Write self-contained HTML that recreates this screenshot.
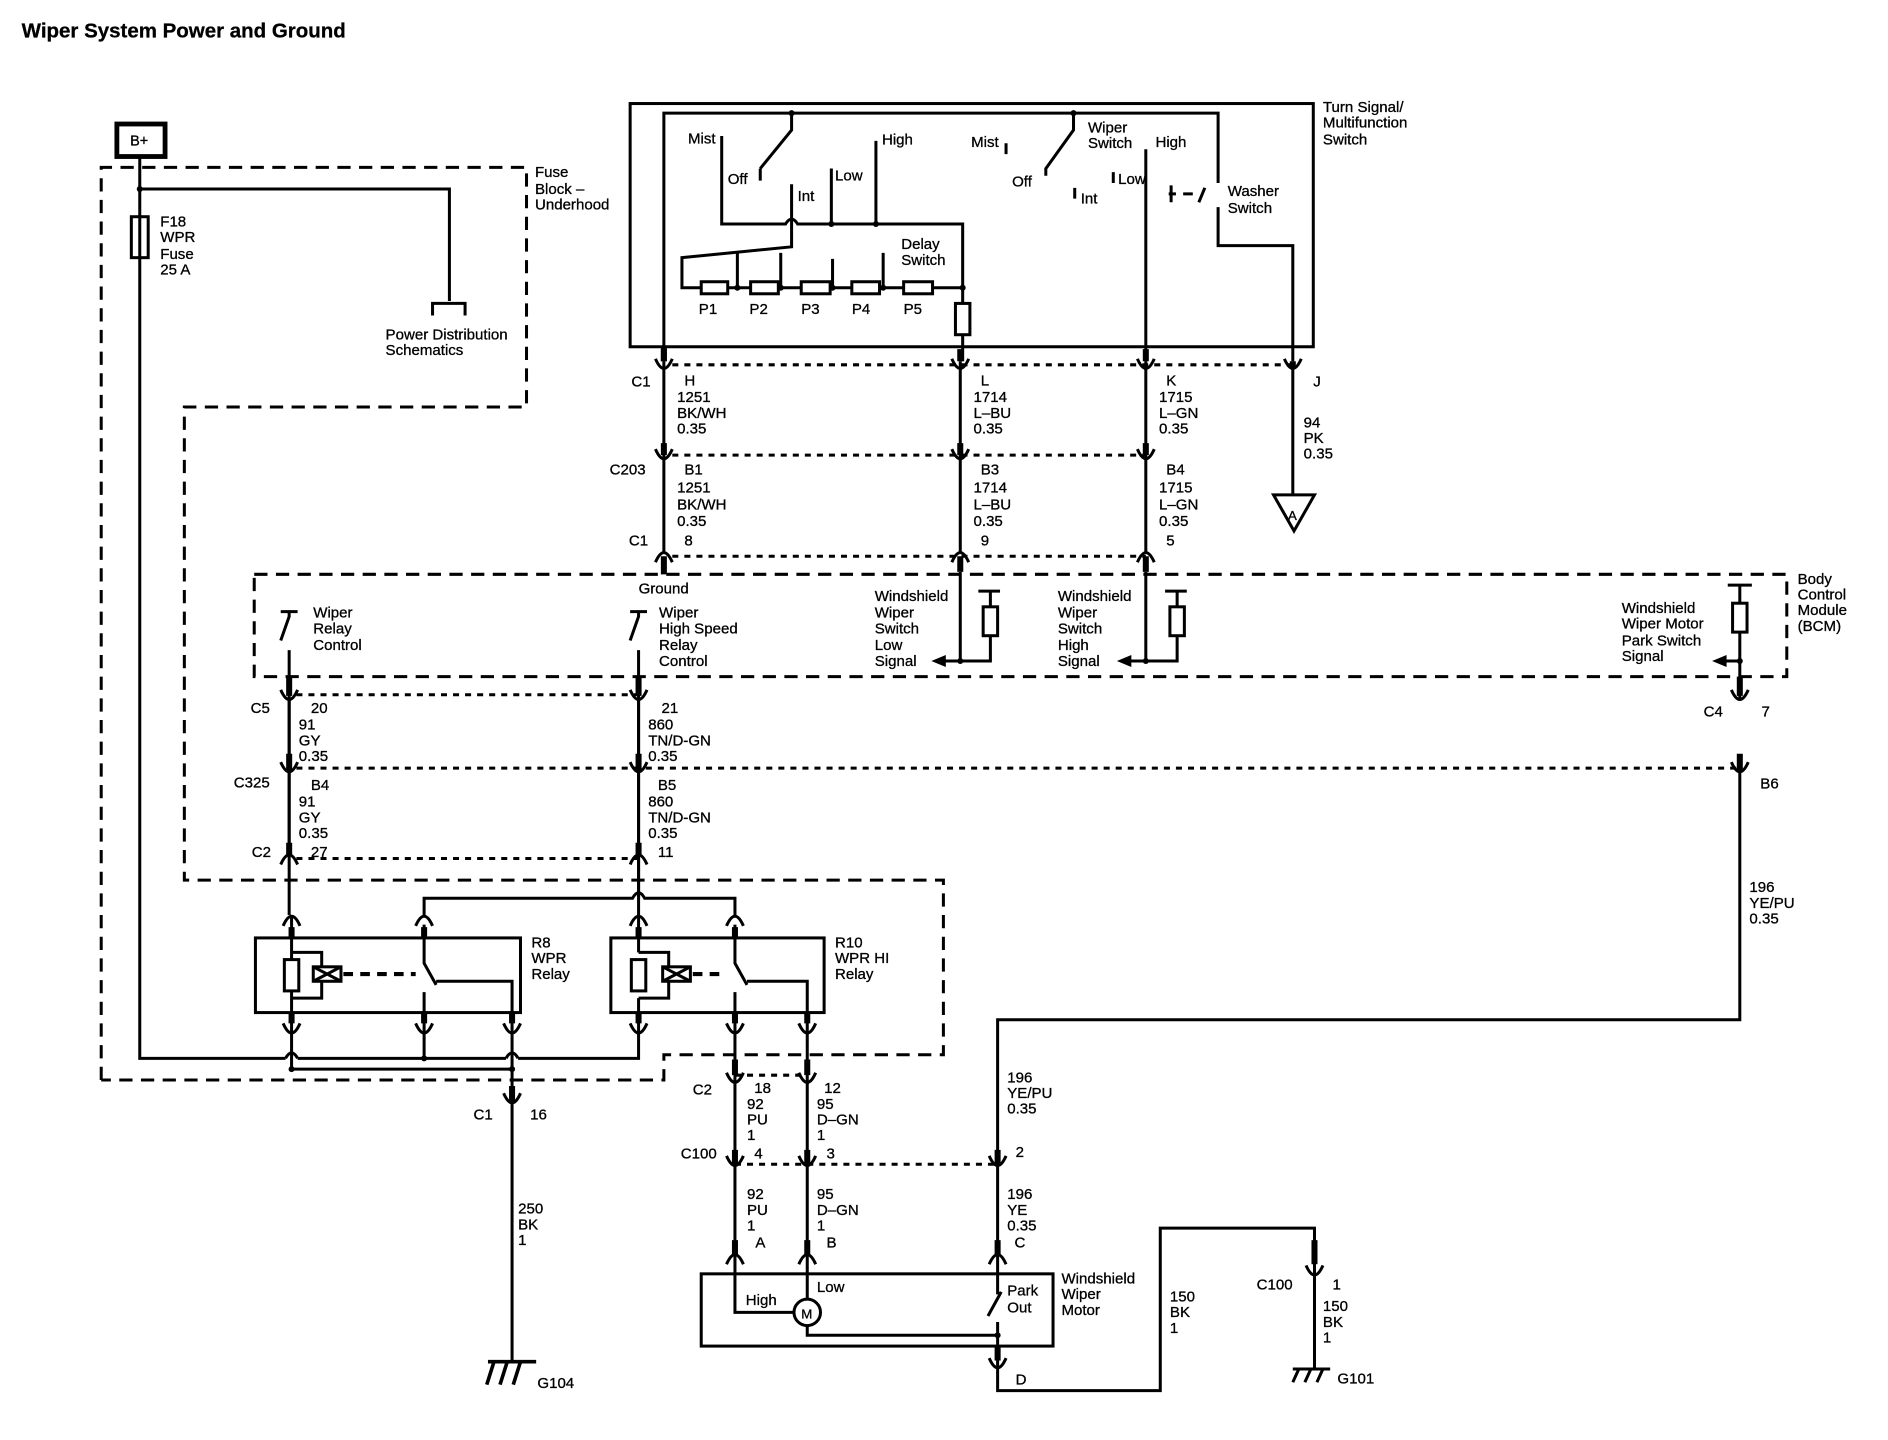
<!DOCTYPE html>
<html><head><meta charset="utf-8"><style>
html,body{margin:0;padding:0;background:#fff}
svg{display:block}
text{font-family:"Liberation Sans",Arial,sans-serif;font-size:12.5px;fill:#000;stroke:#000;stroke-width:0.25}
</style></head><body>
<svg width="1888" height="1440" viewBox="0 0 1567 1196" preserveAspectRatio="none" xmlns="http://www.w3.org/2000/svg">
<defs>
<path id="u" d="M-7,-7 Q0,9 7,-7" fill="none" stroke="#000" stroke-width="2.5"/>
<path id="n" d="M-7,7 Q0,-9 7,7" fill="none" stroke="#000" stroke-width="2.5"/>
</defs>
<text x="18" y="31" style="font-size:17px;font-weight:bold">Wiper System Power and Ground</text>

<g fill="none" stroke="#000" stroke-width="2.5">
<g stroke-dasharray="11,7">
<path d="M84,897 V139 H437 V338 H153 V731 H783 V876 H551 V897 H84"/>
<rect x="211" y="477" width="1272" height="85"/>
</g>
<g stroke-dasharray="5,5">
<path d="M558,303 H1073"/>
<path d="M558,378 H951"/>
<path d="M558,462 H951"/>
<path d="M246,577 H530"/>
<path d="M246,638 H1444"/>
<path d="M246,713 H530"/>
<path d="M610,893 H670"/>
<path d="M610,967 H828"/>
</g>
<rect x="97" y="103" width="40" height="27" stroke-width="4"/>
<path d="M116,130 V879 H237 M247,879 H420 M430,879 H530 V857"/>
<path d="M116,157 H373 V250 M359,262 V252 H386 V262"/>
<rect x="109" y="180" width="14" height="34"/>
<path d="M237,879 Q242,870 247,879 M420,879 Q425,870 430,879"/>
<path d="M242,857 V888 H425 M425,857 V915"/>
<path d="M352,857 V879"/>
<path d="M425,915 V1131"/>
<path d="M405,1131 H445 M410,1131 L404,1150 M421,1131 L415,1150 M432,1131 L426,1150" stroke-width="3"/>

<rect x="523" y="86" width="567" height="202"/>
<path d="M551,288 V94 H1011 V152"/>
<path d="M657,94 V108 L631,140 M631,140 V150"/>
<path d="M599,113 V186 H652 Q657,178 662,186 H799 V239"/>
<path d="M690,140 V186 M727,117 V186"/>
<path d="M657,153 V205 L566,214 V239 H799"/>
<path d="M612,210 V239 M648,210 V239 M691,215 V239 M733,210 V239"/>
<g fill="#fff"><rect x="582" y="234" width="22" height="10"/><rect x="623" y="234" width="23" height="10"/><rect x="665" y="234" width="24" height="10"/><rect x="707" y="234" width="23" height="10"/><rect x="750" y="234" width="24" height="10"/></g>
<path d="M799,239 V252 M799,278 V300"/>
<rect x="793" y="252" width="12" height="26"/>
<path d="M891,94 V108 L868,140 V146"/>
<path d="M835,119 V128 M924,143 V152 M892,156 V165"/>
<path d="M951,124 V300"/>
<path d="M972,154 V168 M970,161 H976 M982,161 H990 M1000,156 L995,168"/>
<path d="M1011,172 V204 H1073 V300"/>
<path d="M551,288 V300 M1073,300 V305" stroke-width="5"/>

<path d="M551,300 V460 M797,300 V460 M951,300 V460"/>
<path d="M1073,305 V411"/>
<path d="M1057,411 H1091 L1074,441 Z"/>
<path d="M551,290 V300 M797,290 V300 M951,290 V300 M551,368 V378 M797,368 V378 M951,368 V378 M551,462 V477 M797,462 V475 M951,462 V475" stroke-width="5"/>

<path d="M233,508 H247 M240,508 V512 L233,532 M240,540 V760"/>
<path d="M523,508 H537 M530,508 V512 L523,532 M530,540 V762"/>
<path d="M797,475 V549 H822 V528 M822,504 V491 M812,491 H830 M782,549 H797"/>
<rect x="816" y="504" width="12" height="24"/>
<path d="M951,475 V549 H977 V528 M977,504 V491 M967,491 H985 M936,549 H951"/>
<rect x="971" y="504" width="12" height="24"/>
<path d="M1444,486 V501 M1434,486 H1454 M1444,525 V580 M1444,549 H1430"/>
<rect x="1438" y="501" width="12" height="24"/>
<path d="M240,562 V578 M530,562 V578 M1444,562 V578" stroke-width="5"/>
<path d="M1444,640 V847 H828 V967"/>
</g>
<g fill="#000">
<path d="M773,549 L785,544 V554 Z"/><path d="M927,549 L939,544 V554 Z"/><path d="M1421,549 L1433,544 V554 Z"/>
<circle cx="116" cy="157" r="2.5"/><circle cx="657" cy="94" r="2.5"/><circle cx="891" cy="94" r="2.5"/>
<circle cx="690" cy="186" r="2.5"/><circle cx="727" cy="186" r="2.5"/><circle cx="799" cy="239" r="2.5"/>
<circle cx="612" cy="239" r="2.5"/><circle cx="648" cy="239" r="2.5"/><circle cx="691" cy="239" r="2.5"/><circle cx="733" cy="239" r="2.5"/>
<circle cx="797" cy="549" r="2.5"/><circle cx="951" cy="549" r="2.5"/><circle cx="1444" cy="549" r="2.5"/>
<circle cx="242" cy="888" r="2.5"/><circle cx="352" cy="879" r="2.5"/><circle cx="425" cy="888" r="2.5"/>
<circle cx="828" cy="1109" r="2.5"/>
</g>

<g fill="none" stroke="#000" stroke-width="2.5">
<path d="M240,580 V711 M530,580 V746"/>
<path d="M240,626 V640 M530,626 V640 M1444,626 V640 M240,700 V711 M530,700 V711" stroke-width="5"/>
<rect x="212" y="779" width="220" height="62"/>
<rect x="507" y="779" width="177" height="62"/>
<path d="M352,762 V746 H525 Q530,737 535,746 H610 V762"/>
<path d="M242,762 V791 M242,829 V857 M242,791 H267 V803 M267,815 V829 H242 M242,791 V797 M242,823 V829"/>
<rect x="236" y="797" width="12" height="26" fill="#fff"/>
<rect x="260" y="803" width="23" height="12"/>
<path d="M260,803 L283,815 M283,803 L260,815"/>
<path d="M285,809 H345" stroke-dasharray="8,6" stroke-width="3.5"/>
<path d="M352,768 V800 L362,818 M362,815 H425 V857 M352,824 V857"/>
<path d="M530,762 V791 M530,829 V857 M530,791 H555 V803 M555,815 V829 H530"/>
<rect x="524" y="797" width="12" height="26" fill="#fff"/>
<rect x="550" y="803" width="23" height="12"/>
<path d="M550,803 L573,815 M573,803 L550,815"/>
<path d="M575,809 H603" stroke-dasharray="8,6" stroke-width="3.5"/>
<path d="M610,768 V800 L620,818 M620,815 H670 V857 M610,824 V857"/>
<path d="M242,770 V779 M352,770 V779 M530,770 V779 M610,770 V779 M242,841 V850 M352,841 V850 M425,841 V850 M530,841 V850 M610,841 V850 M670,841 V850" stroke-width="5"/>
<path d="M610,857 V1043 M670,857 V1043 M828,967 V1043"/>
<path d="M610,880 V893 M670,880 V893 M425,902 V915 M610,1030 V1043 M670,1030 V1043 M828,1030 V1043 M610,955 V967 M670,955 V967 M828,955 V967" stroke-width="5"/>
<rect x="582" y="1058" width="292" height="60"/>
<path d="M610,1043 V1090 H659 M670,1043 V1079 M670,1101 V1109 H828"/>
<circle cx="670" cy="1090" r="11" fill="#fff"/>
<path d="M828,1043 V1075 M831,1073 L820,1093 M828,1098 V1135"/>
<path d="M828,1118 V1130" stroke-width="5"/>
<path d="M828,1135 V1155 H963 V1020 H1091 V1058"/>
<path d="M1091,1030 V1050" stroke-width="5"/>
<path d="M1091,1058 V1137 M1073,1137 H1104 M1078,1137 L1073,1148 M1088,1137 L1083,1148 M1098,1137 L1093,1148" />
</g>
<g>
<use href="#u" x="551" y="305"/><use href="#u" x="797" y="305"/><use href="#u" x="951" y="305"/><use href="#u" x="1073" y="305"/>
<use href="#u" x="551" y="380"/><use href="#u" x="797" y="380"/><use href="#u" x="951" y="380"/>
<use href="#n" x="551" y="460"/><use href="#n" x="797" y="460"/><use href="#n" x="951" y="460"/>
<use href="#u" x="240" y="580"/><use href="#u" x="530" y="580"/><use href="#u" x="1444" y="580"/>
<use href="#u" x="240" y="640"/><use href="#u" x="530" y="640"/><use href="#u" x="1444" y="640"/>
<use href="#n" x="240" y="711"/><use href="#n" x="530" y="711"/>
<use href="#n" x="242" y="762"/><use href="#n" x="352" y="762"/><use href="#n" x="530" y="762"/><use href="#n" x="610" y="762"/>
<use href="#u" x="242" y="857"/><use href="#u" x="352" y="857"/><use href="#u" x="425" y="857"/><use href="#u" x="530" y="857"/><use href="#u" x="610" y="857"/><use href="#u" x="670" y="857"/>
<use href="#u" x="425" y="915"/><use href="#u" x="610" y="898"/><use href="#u" x="670" y="898"/>
<use href="#u" x="610" y="967"/><use href="#u" x="670" y="967"/><use href="#u" x="828" y="967"/>
<use href="#n" x="610" y="1043"/><use href="#n" x="670" y="1043"/><use href="#n" x="828" y="1043"/>
<use href="#u" x="828" y="1135"/><use href="#u" x="1091" y="1058"/>
</g>

<text x="108" y="121" style="font-size:12px">B+</text>
<text x="444" y="147">Fuse</text><text x="444" y="161">Block –</text><text x="444" y="174">Underhood</text>
<text x="133" y="188">F18</text><text x="133" y="201">WPR</text><text x="133" y="215">Fuse</text><text x="133" y="228">25 A</text>
<text x="320" y="282">Power Distribution</text><text x="320" y="295">Schematics</text>
<text x="1098" y="93">Turn Signal/</text><text x="1098" y="106">Multifunction</text><text x="1098" y="120">Switch</text>
<text x="571" y="119">Mist</text><text x="604" y="153">Off</text><text x="662" y="167">Int</text><text x="693" y="150">Low</text><text x="732" y="120">High</text>
<text x="748" y="207">Delay</text><text x="748" y="220">Switch</text>
<text x="580" y="261">P1</text><text x="622" y="261">P2</text><text x="665" y="261">P3</text><text x="707" y="261">P4</text><text x="750" y="261">P5</text>
<text x="806" y="122">Mist</text><text x="840" y="155">Off</text><text x="903" y="110">Wiper</text><text x="903" y="123">Switch</text>
<text x="959" y="122">High</text><text x="928" y="153">Low</text><text x="897" y="169">Int</text>
<text x="1019" y="163">Washer</text><text x="1019" y="177">Switch</text>
<text x="524" y="321">C1</text><text x="568" y="320">H</text><text x="562" y="334">1251</text><text x="562" y="347">BK/WH</text><text x="562" y="360">0.35</text>
<text x="814" y="320">L</text><text x="808" y="334">1714</text><text x="808" y="347">L–BU</text><text x="808" y="360">0.35</text>
<text x="968" y="320">K</text><text x="962" y="334">1715</text><text x="962" y="347">L–GN</text><text x="962" y="360">0.35</text>
<text x="1090" y="321">J</text><text x="1082" y="355">94</text><text x="1082" y="368">PK</text><text x="1082" y="381">0.35</text>
<text x="1069" y="432" style="font-size:11px">A</text>
<text x="506" y="394">C203</text><text x="568" y="394">B1</text><text x="562" y="409">1251</text><text x="562" y="423">BK/WH</text><text x="562" y="437">0.35</text>
<text x="522" y="453">C1</text><text x="568" y="453">8</text>
<text x="814" y="394">B3</text><text x="808" y="409">1714</text><text x="808" y="423">L–BU</text><text x="808" y="437">0.35</text><text x="814" y="453">9</text>
<text x="968" y="394">B4</text><text x="962" y="409">1715</text><text x="962" y="423">L–GN</text><text x="962" y="437">0.35</text><text x="968" y="453">5</text>
<text x="530" y="493">Ground</text>
<text x="260" y="513">Wiper</text><text x="260" y="526">Relay</text><text x="260" y="540">Control</text>
<text x="547" y="513">Wiper</text><text x="547" y="526">High Speed</text><text x="547" y="540">Relay</text><text x="547" y="553">Control</text>
<text x="726" y="499">Windshield</text><text x="726" y="513">Wiper</text><text x="726" y="526">Switch</text><text x="726" y="540">Low</text><text x="726" y="553">Signal</text>
<text x="878" y="499">Windshield</text><text x="878" y="513">Wiper</text><text x="878" y="526">Switch</text><text x="878" y="540">High</text><text x="878" y="553">Signal</text>
<text x="1346" y="509">Windshield</text><text x="1346" y="522">Wiper Motor</text><text x="1346" y="536">Park Switch</text><text x="1346" y="549">Signal</text>
<text x="1492" y="485">Body</text><text x="1492" y="498">Control</text><text x="1492" y="511">Module</text><text x="1492" y="524">(BCM)</text>
<text x="208" y="592">C5</text><text x="258" y="592">20</text><text x="248" y="606">91</text><text x="248" y="619">GY</text><text x="248" y="632">0.35</text>
<text x="194" y="654">C325</text><text x="258" y="656">B4</text><text x="248" y="670">91</text><text x="248" y="683">GY</text><text x="248" y="696">0.35</text>
<text x="209" y="712">C2</text><text x="258" y="712">27</text>
<text x="549" y="592">21</text><text x="538" y="606">860</text><text x="538" y="619">TN/D-GN</text><text x="538" y="632">0.35</text>
<text x="546" y="656">B5</text><text x="538" y="670">860</text><text x="538" y="683">TN/D-GN</text><text x="538" y="696">0.35</text><text x="546" y="712">11</text>
<text x="1414" y="595">C4</text><text x="1462" y="595">7</text><text x="1461" y="655">B6</text>
<text x="1452" y="741">196</text><text x="1452" y="754">YE/PU</text><text x="1452" y="767">0.35</text>
<text x="441" y="787">R8</text><text x="441" y="800">WPR</text><text x="441" y="813">Relay</text>
<text x="693" y="787">R10</text><text x="693" y="800">WPR HI</text><text x="693" y="813">Relay</text>
<text x="393" y="930">C1</text><text x="440" y="930">16</text>
<text x="430" y="1008">250</text><text x="430" y="1021">BK</text><text x="430" y="1034">1</text>
<text x="446" y="1153">G104</text>
<text x="575" y="909">C2</text><text x="626" y="908">18</text><text x="620" y="921">92</text><text x="620" y="934">PU</text><text x="620" y="947">1</text>
<text x="684" y="908">12</text><text x="678" y="921">95</text><text x="678" y="934">D–GN</text><text x="678" y="947">1</text>
<text x="836" y="899">196</text><text x="836" y="912">YE/PU</text><text x="836" y="925">0.35</text>
<text x="565" y="962">C100</text><text x="626" y="962">4</text><text x="686" y="962">3</text><text x="843" y="961">2</text>
<text x="620" y="996">92</text><text x="620" y="1009">PU</text><text x="620" y="1022">1</text><text x="627" y="1036">A</text>
<text x="678" y="996">95</text><text x="678" y="1009">D–GN</text><text x="678" y="1022">1</text><text x="686" y="1036">B</text>
<text x="836" y="996">196</text><text x="836" y="1009">YE</text><text x="836" y="1022">0.35</text><text x="842" y="1036">C</text>
<text x="881" y="1066">Windshield</text><text x="881" y="1079">Wiper</text><text x="881" y="1092">Motor</text>
<text x="619" y="1084">High</text><text x="678" y="1073">Low</text><text x="665" y="1095" style="font-size:11px">M</text>
<text x="836" y="1076">Park</text><text x="836" y="1090">Out</text><text x="843" y="1150">D</text>
<text x="971" y="1081">150</text><text x="971" y="1094">BK</text><text x="971" y="1107">1</text>
<text x="1043" y="1071">C100</text><text x="1106" y="1071">1</text>
<text x="1098" y="1089">150</text><text x="1098" y="1102">BK</text><text x="1098" y="1115">1</text>
<text x="1110" y="1149">G101</text>
</svg>
</body></html>
